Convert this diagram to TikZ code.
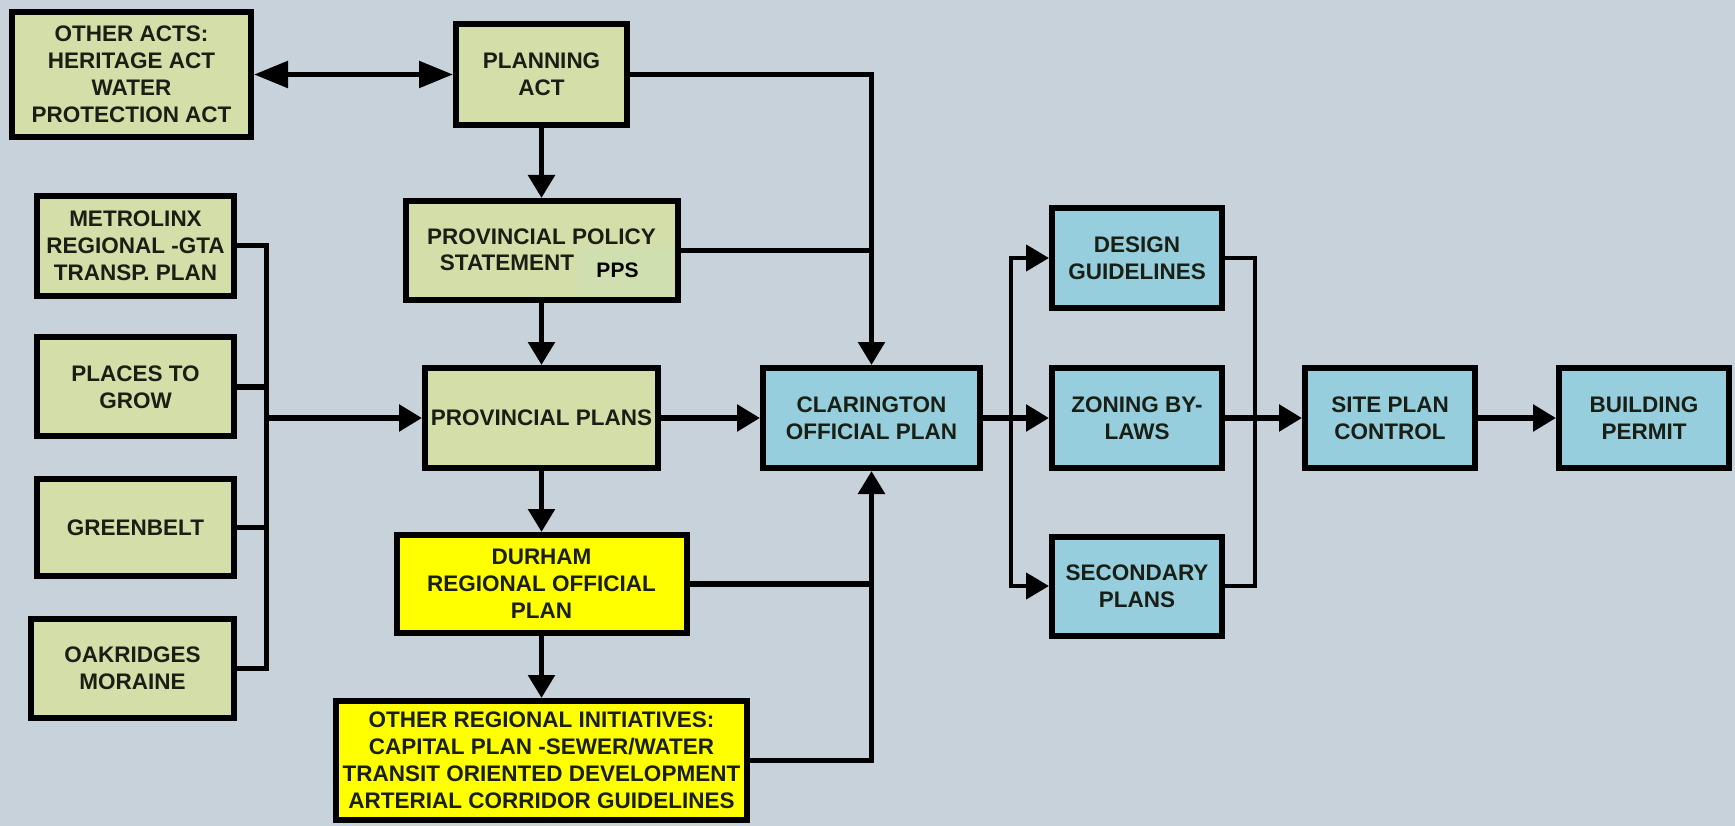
\documentclass[tikz,border=0pt]{standalone}
\usepackage{fontspec}
\setmainfont{Liberation Sans}
\usetikzlibrary{arrows.meta}
\definecolor{bg}{HTML}{C8D2DA}
\definecolor{gfill}{HTML}{D4DEA9}
\definecolor{ppsfill}{HTML}{D0DFAF}
\definecolor{bfill}{HTML}{96CEDD}
\definecolor{yfill}{HTML}{FFFF00}
\definecolor{txt}{HTML}{1A1F16}
\begin{document}
\begin{tikzpicture}[x=1pt,y=-1pt,
  box/.style={draw=black, line width=6pt, inner sep=0pt, align=center, text=txt,
    font=\bfseries\fontsize{22.5}{27}\selectfont},
  gbox/.style={box, fill=gfill},
  bbox/.style={box, fill=bfill},
  ybox/.style={box, fill=yfill},
  lbl/.style={inner sep=0pt, align=center, text=txt, font=\bfseries\fontsize{22.5}{27}\selectfont},
  conn/.style={draw=black, line width=5.5pt},
  bus/.style={draw=black, line width=4.5pt},
  >={Triangle[length=23pt,width=26pt]}
]
\path[fill=bg] (0,0) rectangle (1735,826);

% left column
\node[gbox, minimum width=239pt, minimum height=125pt] (oa) at (131.5,74.5) {OTHER ACTS:\\HERITAGE ACT\\WATER\\PROTECTION ACT};
\node[gbox, minimum width=197pt, minimum height=100pt] (me) at (135.5,245.7) {METROLINX\\REGIONAL -GTA\\TRANSP. PLAN};
\node[gbox, minimum width=197pt, minimum height=99pt] (pg) at (135.5,386.8) {PLACES TO\\GROW};
\node[gbox, minimum width=197pt, minimum height=97pt] (gb) at (135.5,527.3) {GREENBELT};
\node[gbox, minimum width=203pt, minimum height=99pt] (oak) at (132.5,668.7) {OAKRIDGES\\MORAINE};

% centre column
\node[gbox, minimum width=171pt, minimum height=101pt] (pa) at (541.5,74.5) {PLANNING\\ACT};
\node[gbox, minimum width=272pt, minimum height=99pt] (pps) at (541.5,250.5) {};
\node[fill=ppsfill, inner sep=0pt, minimum width=97pt, minimum height=50pt] (ppspatch) at (625.5,271) {};
\node[lbl] (ppst1) at (541.5,237) {PROVINCIAL POLICY};
\node[lbl] (ppst2) at (507,263) {STATEMENT};
\node[inner sep=0pt, text=black, font=\bfseries\fontsize{21}{24}\selectfont] (ppst3) at (617.5,270.5) {PPS};
\node[gbox, minimum width=233pt, minimum height=100pt] (pp) at (541.5,418) {PROVINCIAL PLANS};
\node[ybox, minimum width=290pt, minimum height=98pt] (du) at (541.5,584) {DURHAM\\REGIONAL OFFICIAL\\PLAN};
\node[ybox, minimum width=411pt, minimum height=119pt] (ori) at (541.5,760.5) {OTHER REGIONAL INITIATIVES:\\CAPITAL PLAN -SEWER/WATER\\TRANSIT ORIENTED DEVELOPMENT\\ARTERIAL CORRIDOR GUIDELINES};

% right part
\node[bbox, minimum width=217pt, minimum height=100pt] (cl) at (871.5,418) {CLARINGTON\\OFFICIAL PLAN};
\node[bbox, minimum width=170pt, minimum height=100pt] (dg) at (1137,258) {DESIGN\\GUIDELINES};
\node[bbox, minimum width=170pt, minimum height=100pt] (zo) at (1137,418) {ZONING BY-\\LAWS};
\node[bbox, minimum width=170pt, minimum height=99pt] (sp) at (1137,586) {SECONDARY\\PLANS};
\node[bbox, minimum width=170pt, minimum height=100pt] (spc) at (1390,418) {SITE PLAN\\CONTROL};
\node[bbox, minimum width=170pt, minimum height=100pt] (bp) at (1644,418) {BUILDING\\PERMIT};

\coordinate (lbus) at (266.7,0);
\coordinate (cbus) at (1011,0);
\coordinate (rbus) at (1255,0);

% connectors
\draw[conn, {Triangle[length=34pt,width=26pt]}-{Triangle[length=34pt,width=26pt]}] (oa.east) -- (pa.west);
\draw[conn, ->] (pa) -- (pps);
\draw[conn, ->] (pps) -- (pp);
\draw[conn, ->] (pp) -- (du);
\draw[conn, ->] (du) -- (ori);
\draw[conn, ->] (pa.east) -| (cl.north);
\draw[conn] (pps.east) -- (pps.east -| cl.north);
\draw[conn, ->] (pp.east) -- (cl.west);
\draw[conn, ->] (ori.east) -| (cl.south);
\draw[conn] (du.east) -- (du.east -| cl.south);

\draw[conn] (me.east) -- (me.east -| lbus) -- (oak.east -| lbus) -- (oak.east);
\draw[conn] (pg.east) -- (pg.east -| lbus);
\draw[conn] (gb.east) -- (gb.east -| lbus);
\draw[conn, ->] (pp.west -| lbus) -- (pp.west);

\draw[conn, ->] (cl.east) -- (zo.west);
\draw[bus, ->] (cl.east -| cbus) |- (dg.west);
\draw[bus, ->] (cl.east -| cbus) |- (sp.west);
\draw[bus] (dg.east) -| (zo.east -| rbus) |- (sp.east);
\draw[conn, ->] (zo.east) -- (spc.west);
\draw[conn, ->] (spc.east) -- (bp.west);
\end{tikzpicture}
\end{document}
